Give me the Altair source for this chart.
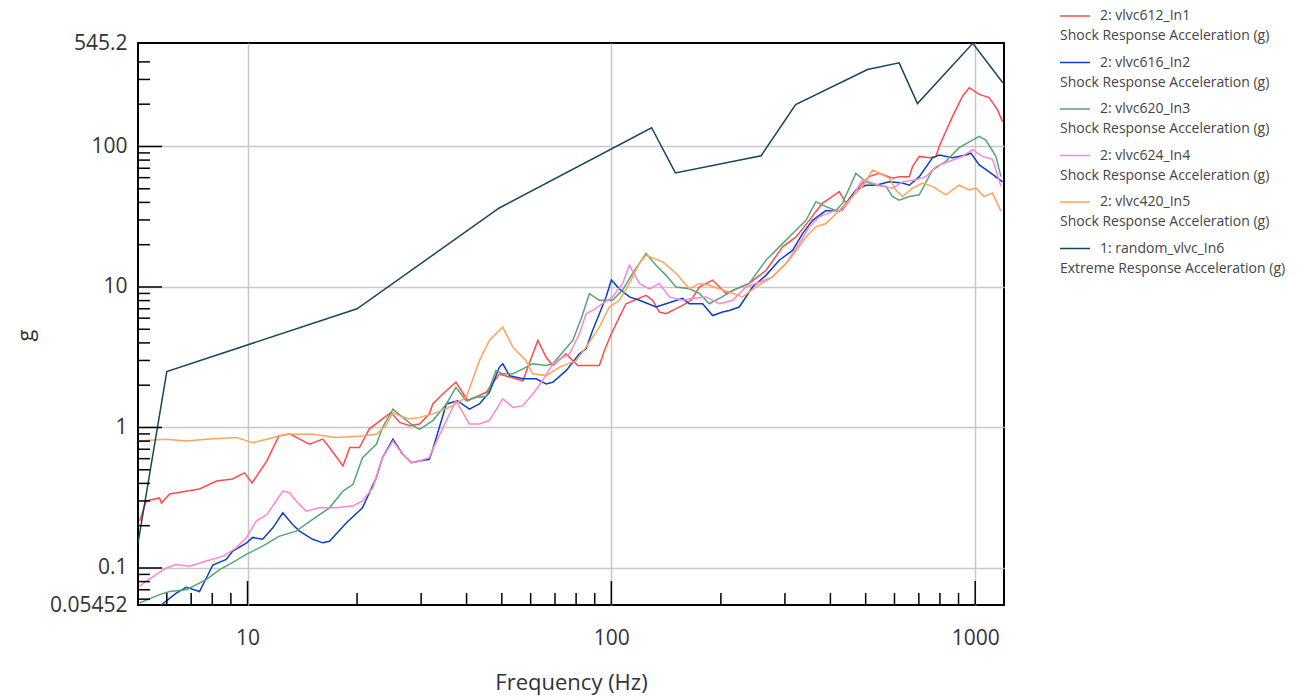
import altair as alt
import pandas as pd

# ---------------- data ----------------
SERIES = ["2: vlvc612_In1", "2: vlvc616_In2", "2: vlvc620_In3",
          "2: vlvc624_In4", "2: vlvc420_In5", "1: random_vlvc_In6"]
SUBTITLES = ["Shock Response Acceleration (g)"] * 5 + ["Extreme Response Acceleration (g)"]
COLORS = ["#ff4b4b", "#0d3fc4", "#55a57a", "#ff85d3", "#ffa35a", "#17475f"]
WIDTHS = [1.5, 1.5, 1.5, 1.5, 1.5, 2.0]

F1 = [5.05, 5.27, 5.73, 5.8, 6.11, 7.38, 8.22, 9.09, 9.81, 10.3, 11.3, 12.2, 13.05, 14.8, 16.1,
      16.8, 18.3, 19.1, 20.3, 21.6, 23.5, 24.8, 26.2, 27.9, 29.7, 31.6, 32.3, 34.4, 37.4, 40.3,
      45.3, 49.2, 54.7, 57.1, 62.8, 66.2, 69.0, 75.1, 80.8, 92.7, 95.7, 100, 105.2, 109.7, 124.5,
      129.9, 135.5, 141.3, 157, 165.6, 174.5, 189.8, 206.6, 239.3, 266, 295.6, 321.8, 349.9, 365,
      380.6, 405.5, 423, 441.5, 480, 511, 545, 592.7, 618, 659, 672.6, 702, 747.5, 780, 796, 866,
      923, 963, 1026, 1093, 1151, 1189]
V1 = [0.216, 0.30, 0.315, 0.29, 0.336, 0.365, 0.416, 0.43, 0.475, 0.403, 0.578, 0.872, 0.90, 0.76,
      0.826, 0.72, 0.533, 0.72, 0.72, 0.974, 1.15, 1.28, 1.086, 1.03, 1.06, 1.25, 1.47, 1.73, 2.1,
      1.55, 1.78, 2.4, 2.22, 2.15, 4.16, 3.16, 2.76, 3.34, 2.76, 2.76, 3.53, 4.65, 6.1, 7.6, 8.73,
      8.04, 6.63, 6.45, 7.4, 8.04, 10, 11.2, 9.0, 10.6, 13.1, 19.3, 22.7, 29.8, 34.5, 39.5, 44.1,
      47.7, 39.5, 52, 61, 64.5, 59.5, 61, 61, 72, 85, 83, 85, 100, 163, 228, 262, 235, 223, 183, 150]

F2 = [5.66, 6.37, 6.79, 7.38, 8.03, 8.74, 9.11, 9.92, 10.34, 11.0, 11.74, 12.5, 13.3, 13.9, 15.1,
      16.1, 16.8, 18.7, 20.7, 22.6, 23.5, 25.1, 26.7, 28.2, 29.7, 31.6, 32.3, 35.2, 37.8, 40.7,
      43.4, 46.2, 49.2, 50.3, 52.5, 57.1, 62.1, 66.2, 69.0, 75.1, 81.7, 85.2, 88.8, 92.7, 96.7,
      100, 105.2, 112.1, 119.4, 132.7, 141.3, 157, 163.8, 178.2, 189.8, 202.2, 211, 224.7, 244.4,
      266, 289.4, 314.8, 335.4, 357.3, 388.9, 423, 441.5, 470, 500.7, 533.6, 580.3, 631.3, 659,
      702, 763, 796, 866, 943, 973, 1026, 1093, 1189]
V2 = [0.052, 0.0663, 0.0728, 0.068, 0.105, 0.115, 0.132, 0.150, 0.165, 0.16, 0.193, 0.247, 0.204,
      0.183, 0.16, 0.151, 0.155, 0.21, 0.268, 0.44, 0.61, 0.826, 0.645, 0.562, 0.578, 0.594, 0.70,
      1.47, 1.55, 1.35, 1.47, 1.78, 2.68, 2.84, 2.34, 2.22, 2.22, 2.04, 2.1, 2.54, 3.34, 3.63, 4.9,
      6.45, 8.5, 11.2, 9.7, 8.5, 8.04, 7.2, 7.6, 8.3, 7.6, 7.6, 6.26, 6.63, 6.8, 7.2, 10, 12.1,
      15.5, 18.2, 24.0, 29.8, 35, 34.5, 39.5, 49, 53, 53, 56, 55, 53, 61, 83, 87, 83, 87, 89.6, 74,
      66, 56]

F3 = [5.05, 5.73, 6.11, 6.79, 7.70, 8.38, 8.92, 9.92, 11.0, 12.2, 13.6, 15.1, 16.8, 18.3, 19.5,
      20.7, 22.6, 23.5, 25.1, 26.7, 28.5, 29.7, 32.3, 35.2, 37.4, 39.9, 42.5, 45.3, 48.2, 50.3,
      53.6, 57.1, 60.8, 66.2, 69.0, 73.5, 78.3, 82.6, 87.0, 92.7, 100.8, 107.4, 114.4, 124.5,
      132.7, 141.3, 150.6, 163.8, 174.5, 185.9, 198, 220, 239.3, 266, 289.4, 314.8, 342.7, 365,
      388.9, 414.3, 431.9, 470, 500.7, 533.6, 568.4, 592.7, 618, 659, 702, 763, 831, 903.6, 963,
      1026, 1070, 1140, 1177]
V3 = [0.0563, 0.0646, 0.068, 0.07, 0.0826, 0.0975, 0.106, 0.125, 0.143, 0.168, 0.183, 0.222,
      0.268, 0.353, 0.394, 0.61, 0.76, 1.0, 1.35, 1.18, 1.03, 0.97, 1.12, 1.47, 1.93, 1.55, 1.64,
      1.66, 2.54, 2.41, 2.41, 2.61, 2.84, 2.76, 2.84, 3.43, 4.16, 5.95, 8.96, 8.04, 8.04, 9.5,
      12.5, 17.3, 14.3, 12.1, 10, 9.7, 9.0, 7.6, 8.3, 9.7, 10.6, 15.5, 19.3, 24.0, 29.8, 40.5,
      37.3, 35, 39.5, 64.5, 56, 53, 52, 44, 41.5, 44, 45.3, 68, 78.5, 98, 108, 118, 111, 85, 61]

F4 = [5.05, 5.27, 5.61, 5.98, 6.37, 6.93, 7.70, 8.55, 9.31, 9.92, 10.57, 11.3, 11.99, 12.5, 13.05,
      13.6, 14.5, 15.77, 17.5, 19.5, 20.7, 22.1, 23.5, 25.1, 26.7, 28.2, 29.7, 31.6, 32.3, 35.2,
      37.4, 40.7, 43.4, 46.2, 50.3, 53.6, 57.1, 60.8, 64.7, 69.0, 73.5, 76.7, 81.7, 85.2, 88.8,
      94.6, 100.8, 107.4, 112.1, 119.4, 127.2, 135.5, 144.3, 157, 167.3, 182, 198, 215.4, 234.4,
      255, 277.4, 302, 328.6, 349.9, 373, 405.5, 431.9, 460, 490.2, 522.3, 556.4, 592.7, 631.3,
      687.1, 732.1, 780, 848.4, 923, 983, 1047, 1116, 1177]
V4 = [0.074, 0.0806, 0.0896, 0.10, 0.106, 0.103, 0.112, 0.121, 0.139, 0.164, 0.216, 0.24, 0.30,
      0.353, 0.343, 0.30, 0.254, 0.268, 0.268, 0.277, 0.30, 0.373, 0.61, 0.80, 0.645, 0.562,
      0.578, 0.61, 0.70, 1.12, 1.55, 1.06, 1.06, 1.12, 1.6, 1.39, 1.43, 1.73, 2.15, 2.84, 3.16,
      3.34, 4.65, 6.45, 6.82, 7.6, 8.5, 10.6, 14.3, 10.6, 9.7, 10.6, 8.5, 8.04, 8.3, 8.5, 7.6,
      8.04, 10, 10.8, 11.8, 14.7, 20.4, 26.8, 31.6, 34.5, 35, 44, 58, 55, 52, 50.5, 56, 58, 61,
      72, 78.5, 85, 95, 85, 81, 52]

F5 = [5.0, 5.98, 6.79, 7.70, 9.31, 10.34, 11.3, 12.77, 15.1, 17.5, 20.7, 22.6, 24.0, 25.1, 26.2,
      27.9, 29.7, 32.3, 35.9, 39.9, 43.4, 46.2, 50.3, 53.6, 58.3, 60.8, 66.2, 71.9, 80.0, 85.2,
      92.7, 98.7, 105.2, 112.1, 119.4, 124.5, 138.4, 150.6, 163.8, 174.5, 185.9, 198, 215.4,
      229.5, 249.8, 277.4, 308, 342.7, 365, 388.9, 423, 460, 490.2, 522.3, 545, 580.3, 605.4,
      631.3, 672.6, 716.5, 763, 831, 903.6, 963, 1004, 1058, 1116, 1177]
V5 = [0.80, 0.826, 0.80, 0.826, 0.85, 0.78, 0.826, 0.896, 0.896, 0.85, 0.87, 0.896, 1.03, 1.28,
      1.21, 1.15, 1.18, 1.25, 1.39, 1.64, 2.99, 4.16, 5.18, 3.73, 2.99, 2.41, 2.34, 2.68, 2.99,
      3.73, 5.18, 7.2, 8.04, 10.6, 14.7, 16.8, 15.1, 12.5, 9.7, 10.6, 10.3, 9.7, 9.0, 8.5, 10,
      11.8, 15.5, 22.7, 26.8, 28.3, 35, 44, 52, 68, 64.5, 59.5, 49, 44, 50.5, 55, 52, 45.3, 53,
      49, 50.5, 44, 46.6, 34.5]

F6 = [5.0, 6.0, 20, 49.2, 129, 150, 258, 321, 506, 618, 694, 985, 1191]
V6 = [0.15, 2.5, 7.0, 36.5, 136, 64.9, 85.9, 199, 353, 394, 202, 542, 284]

X_LABELS = [10, 100, 1000]
Y_LABELS = [0.05452, 0.1, 1, 10, 100, 545.2]
X_MAJOR_TICKS = [10, 100, 1000]
X_MINOR_TICKS = [6, 7, 8, 9, 20, 30, 40, 50, 60, 70, 80, 90, 200, 300, 400, 500, 600, 700, 800, 900]
Y_MAJOR_TICKS = [0.1, 1, 10, 100]
Y_MINOR_TICKS = [0.06, 0.07, 0.08, 0.09, 0.2, 0.3, 0.4, 0.5, 0.6, 0.7, 0.8, 0.9,
                 2, 3, 4, 5, 6, 7, 8, 9, 20, 30, 40, 50, 60, 70, 80, 90, 200, 300, 400, 545.2]

# ---------------- build table ----------------
keys = [n + "|" + s for n, s in zip(SERIES, SUBTITLES)]
rows = []
for key, fs, vs in zip(keys, [F1, F2, F3, F4, F5, F6], [V1, V2, V3, V4, V5, V6]):
    assert len(fs) == len(vs), key
    for f, v in zip(fs, vs):
        rows.append({"f": f, "v": v, "series": key})
df = pd.DataFrame(rows)

W, H = 866, 562
FONT = "Open Sans"
xscale = alt.Scale(type="log", domain=[5, 1200], nice=False)
yscale = alt.Scale(type="log", domain=[0.05452, 545.2], nice=False)

x_axis = alt.Axis(values=X_LABELS, format="~g", title="Frequency (Hz)", grid=True,
                  ticks=False, domain=False, labelPadding=22,
                  titleY=77, titleBaseline="middle")
y_axis = alt.Axis(values=Y_LABELS, format="~g", title="g", grid=True,
                  gridColor={"condition": {"test": "datum.value > 0.06 && datum.value < 500",
                                           "value": "#c8c8c8"},
                             "value": "transparent"},
                  ticks=False, domain=False, labelPadding=11,
                  titleX=-113, titleY=292, titleAlign="center", titleBaseline="middle")

# zero-width space keeps the non-breaking indent from being trimmed
pad = "\u200b" + "\u00a0" * 11
label_expr = f"['{pad}' + split(datum.label, '|')[0], split(datum.label, '|')[1]]"
LEGEND_SYMBOL = "M7,0H37"

lines = alt.Chart(df).mark_line(clip=True).encode(
    x=alt.X("f:Q", scale=xscale, axis=x_axis),
    y=alt.Y("v:Q", scale=yscale, axis=y_axis),
    color=alt.Color("series:N", scale=alt.Scale(domain=keys, range=COLORS),
                    legend=alt.Legend(title=None, orient="none", legendX=908, legendY=-34,
                                      symbolType=LEGEND_SYMBOL, symbolSize=4,
                                      symbolStrokeWidth=2, labelFont=FONT,
                                      labelFontSize=14, labelColor="#444",
                                      labelExpr=label_expr, labelLimit=400,
                                      labelOffset=0, rowPadding=12.5, padding=0)),
    strokeWidth=alt.StrokeWidth("series:N", scale=alt.Scale(domain=keys, range=WIDTHS),
                                legend=None),
)

tick_color = "#000000"
x_major = alt.Chart(pd.DataFrame({"f": X_MAJOR_TICKS})).mark_rule(
    color=tick_color, strokeWidth=1.5).encode(
    x=alt.X("f:Q", scale=xscale, axis=x_axis), y=alt.value(H), y2=alt.value(H - 24))
x_minor = alt.Chart(pd.DataFrame({"f": X_MINOR_TICKS})).mark_rule(
    color=tick_color, strokeWidth=1.5).encode(
    x=alt.X("f:Q", scale=xscale, axis=x_axis), y=alt.value(H), y2=alt.value(H - 12))
y_major = alt.Chart(pd.DataFrame({"v": Y_MAJOR_TICKS})).mark_rule(
    color=tick_color, strokeWidth=1.5).encode(
    y=alt.Y("v:Q", scale=yscale, axis=y_axis), x=alt.value(0), x2=alt.value(24))
y_minor = alt.Chart(pd.DataFrame({"v": Y_MINOR_TICKS})).mark_rule(
    color=tick_color, strokeWidth=1.5).encode(
    y=alt.Y("v:Q", scale=yscale, axis=y_axis), x=alt.value(0), x2=alt.value(12))

chart = alt.layer(lines, x_major, x_minor, y_major, y_minor).properties(
    width=W, height=H,
    autosize=alt.AutoSizeParams(type="none"),
    padding={"left": 130, "top": 35, "right": 286, "bottom": 92},
).configure(
    style={"guide-label": {"lineHeight": 20}}
).configure_view(
    stroke="#000000", strokeWidth=2
).configure_axis(
    labelFont=FONT, labelFontSize=21, labelColor="#333333",
    titleFont=FONT, titleFontSize=22, titleFontWeight="normal", titleColor="#333333",
    gridColor="#c8c8c8", gridWidth=1.5,
)

chart.save("out.html", embed_options={"renderer": "svg", "actions": False})
